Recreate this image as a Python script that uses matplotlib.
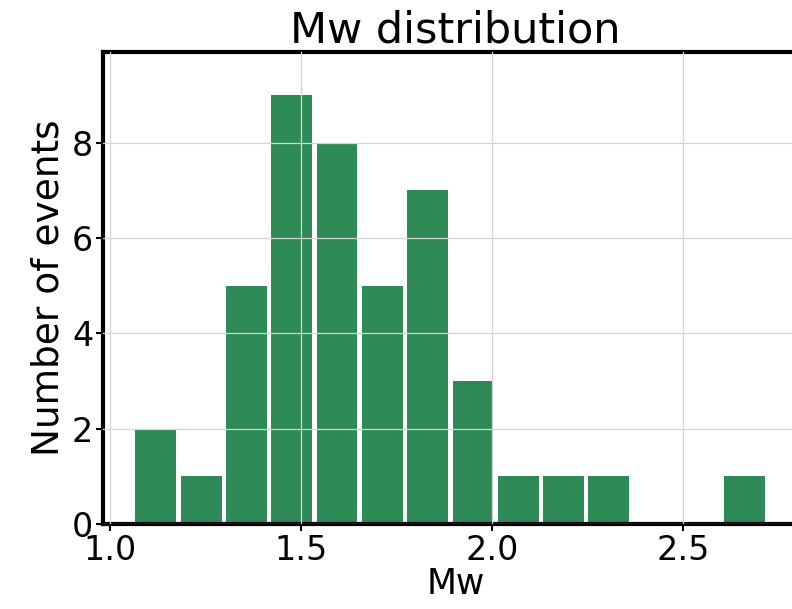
import numpy as np
import matplotlib.pyplot as plt

# histogram of event magnitudes
mw_min = 1.06
mw_max = 2.72
n_bins = 14
counts = [2, 1, 5, 9, 8, 5, 7, 3, 1, 1, 1, 0, 0, 1]

edges = np.linspace(mw_min, mw_max, n_bins + 1)
centers = 0.5 * (edges[:-1] + edges[1:])

plt.rcParams['font.family'] = 'DejaVu Sans'

fig = plt.figure(figsize=(7.92, 6.09), dpi=100)
ax = fig.add_axes([103 / 792, 1 - 524 / 609, 705 / 792, 472 / 609])

ax.hist(centers, bins=edges, weights=counts, color='seagreen', rwidth=0.9)

ax.set_xlim(0.981, 0.981 + 705 / 382)
ax.set_ylim(0, 9.9)
ax.set_xticks([1.0, 1.5, 2.0, 2.5])
ax.set_yticks([0, 2, 4, 6, 8])

ax.grid(True, color='#d5d5d5', linewidth=0.9)
ax.set_axisbelow(False)

for side in ['top', 'left', 'bottom']:
    ax.spines[side].set_linewidth(3)
ax.spines['right'].set_visible(False)

ax.tick_params(labelsize=24, width=1.5, length=5, pad=2)
ax.set_xlabel('Mw', fontsize=25, labelpad=0)
ax.set_ylabel('Number of events', fontsize=27, labelpad=4)
ax.set_title('Mw distribution', fontsize=31, pad=4)

fig.savefig('out.png', dpi=100)
